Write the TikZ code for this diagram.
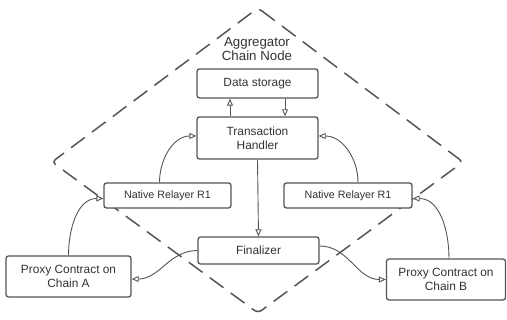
\documentclass[tikz,border=0pt]{standalone}
\usepackage{fontspec}
\setmainfont{Liberation Sans}
\usetikzlibrary{arrows.meta}
\definecolor{ln}{HTML}{555555}
\definecolor{tx}{HTML}{333333}
\tikzset{
  x=1pt, y=-1pt,
  box/.style={draw=ln, line width=1.3pt, rounded corners=2.5pt, fill=white, align=center, text=tx, inner sep=0pt, font=\fontsize{11.9}{14.5}\selectfont},
  conn/.style={draw=ln, line width=0.9pt, -{Triangle[open, length=7pt, width=6pt, line width=0.9pt]}},
}
\begin{document}
\begin{tikzpicture}
\useasboundingbox (0,0) rectangle (507,320);
\draw[ln, line width=1.5pt, dash pattern=on 17pt off 9pt, rounded corners=4pt] (258,8) -- (463,162) -- (258,313) -- (52,162) -- cycle;
\node[text=tx, align=center, font=\fontsize{13.3}{14}\selectfont] (title) at (257,49) {Aggregator\\Chain Node};
\node[box, minimum width=121pt, minimum height=29pt] (ds) at (257.5,83.5) {Data storage};
\node[box, minimum width=121pt, minimum height=42pt] (th) at (257.5,138) {Transaction\\Handler};
\node[box, minimum width=127pt, minimum height=25pt, font=\fontsize{10.7}{12}\selectfont] (nrl) at (167.5,195.5) {Native Relayer R1};
\node[box, minimum width=128pt, minimum height=25pt, font=\fontsize{10.7}{12}\selectfont] (nrr) at (348,195.5) {Native Relayer R1};
\node[box, minimum width=121pt, minimum height=27pt] (fin) at (258.5,250.5) {Finalizer};
\node[box, minimum width=125pt, minimum height=41pt, font=\fontsize{11.9}{14}\selectfont] (pa) at (68.5,276.5) {Proxy Contract on\\Chain A};
\node[box, minimum width=119pt, minimum height=41pt, font=\fontsize{11.9}{14}\selectfont] (pb) at (446,279.5) {Proxy Contract on\\Chain B};
\draw[conn] ([xshift=-27.5pt]th.north) -- ([xshift=-27.5pt]ds.south);
\draw[conn] ([xshift=27.5pt]ds.south) -- ([xshift=27.5pt]th.north);
\draw[conn] (th.south) -- (fin.north);
\draw[conn] ([xshift=-8pt]nrl.north) to[out=90, in=180] ([yshift=2pt]th.west);
\draw[conn] ([xshift=10pt]nrr.north) to[out=90, in=0] ([yshift=2pt]th.east);
\draw[conn] (pa.north) to[out=90, in=180] ([yshift=-3pt]nrl.west);
\draw[conn] ([xshift=3pt]pb.north) to[out=90, in=0] ([yshift=-3pt]nrr.east);
\draw[conn] (fin.west) to[out=180, in=0] ([yshift=-2.5pt]pa.east);
\draw[conn] ([yshift=4.5pt]fin.east) to[out=0, in=180] (pb.west);
\end{tikzpicture}
\end{document}
